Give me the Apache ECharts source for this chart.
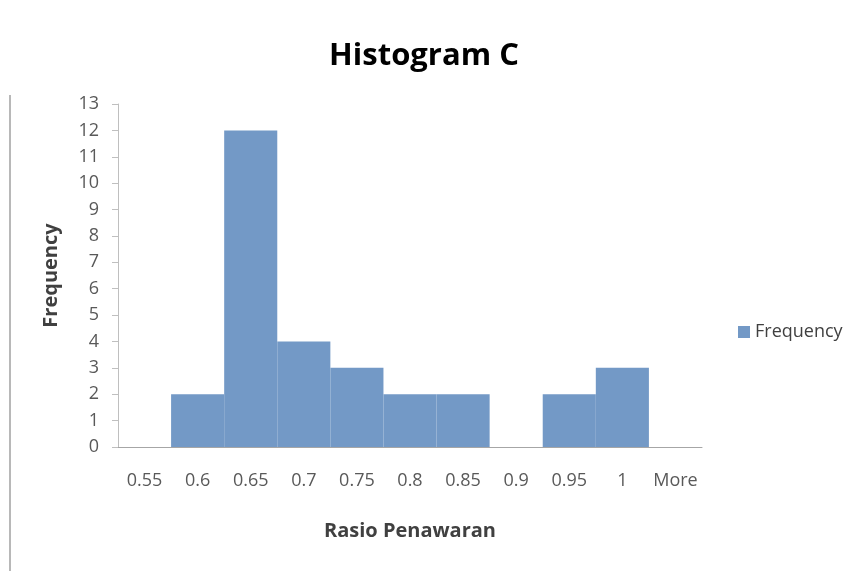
<!DOCTYPE html>
<html>
<head>
<meta charset="utf-8">
<script src="https://cdn.jsdelivr.net/npm/echarts@6/dist/echarts.min.js"></script>
<style>
  html, body { margin: 0; padding: 0; background: #fff; }
  #chart { width: 848px; height: 571px; }
</style>
</head>
<body>
<div id="chart"></div>
<script>
// histogram bins and counts
const bins = ["0.55", "0.6", "0.65", "0.7", "0.75", "0.8", "0.85", "0.9", "0.95", "1", "More"];
const frequency = [0, 2, 12, 4, 3, 2, 2, 0, 2, 3, 0];
const yTicks = { min: 0, max: 13, step: 1 };

const mc = echarts.init(document.getElementById("chart"));
const font = "'Open Sans', 'DejaVu Sans', sans-serif";

const option = {
  backgroundColor: "#ffffff",
  animation: false,
  title: {
    text: "Histogram C",
    left: "center",
    top: 36,
    textStyle: { fontFamily: font, fontSize: 31, fontWeight: "bold", color: "#000" },
  },
  legend: {
    left: 733,
    top: 318,
    icon: "rect",
    itemWidth: 12,
    itemHeight: 12,
    itemGap: 6,
    textStyle: { fontFamily: font, fontSize: 18, color: "#404040" },
    data: ["Frequency"],
  },
  grid: { left: 118, right: 146, top: 104, bottom: 124 },
  xAxis: {
    type: "category",
    data: bins,
    name: "Rasio Penawaran",
    nameLocation: "middle",
    nameGap: 74,
    nameTextStyle: { fontFamily: font, fontSize: 20, fontWeight: "bold", color: "#404040" },
    axisLine: { lineStyle: { color: "#a6a6a6" } },
    axisTick: { length: 6, lineStyle: { color: "#a6a6a6" } },
    axisLabel: { interval: 0, fontFamily: font, fontSize: 18, color: "#595959", margin: 25 },
  },
  yAxis: {
    type: "value",
    min: yTicks.min,
    max: yTicks.max,
    interval: yTicks.step,
    name: "Frequency",
    nameLocation: "middle",
    nameGap: 57,
    nameRotate: 90,
    nameTextStyle: { fontFamily: font, fontSize: 20, fontWeight: "bold", color: "#404040" },
    axisLine: { show: true, lineStyle: { color: "#bfbfbf" } },
    axisTick: { show: true, length: 6, lineStyle: { color: "#bfbfbf" } },
    axisLabel: { fontFamily: font, fontSize: 18, color: "#595959", margin: 19 },
    splitLine: { show: false },
  },
  series: [
    {
      name: "Frequency",
      type: "bar",
      data: frequency,
      barCategoryGap: "0%",
      itemStyle: { color: "#7399c6" },
    },
  ],
  graphic: [
    {
      type: "line",
      shape: { x1: 10, y1: 95, x2: 10, y2: 571 },
      style: { stroke: "#a0a0a0", lineWidth: 1.5 },
    },
  ],
};

mc.setOption(option);
</script>
</body>
</html>
